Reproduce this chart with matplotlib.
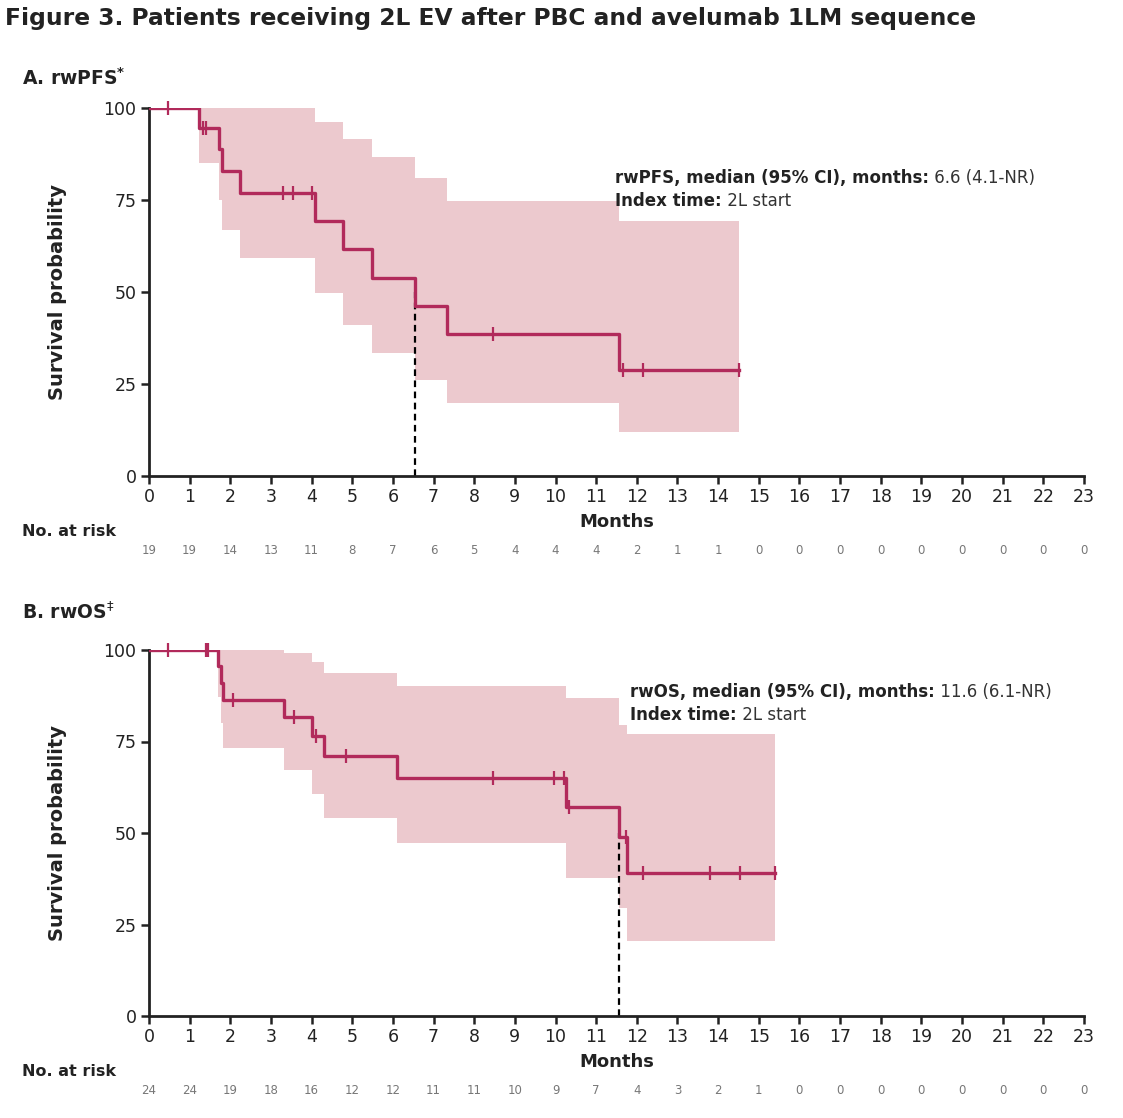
import numpy as np
import matplotlib
matplotlib.use("Agg")
import matplotlib.pyplot as plt

# ---------------- data ----------------
months = list(range(0, 24))

# Panel A: rwPFS
pfs_times = [0, 1.24, 1.73, 1.79, 2.24, 4.08, 4.76, 5.48, 6.55, 7.32, 11.55, 14.52]
pfs_surv = [100, 94.7, 88.8, 82.9, 77.0, 69.3, 61.6, 53.9, 46.2, 38.5, 28.9, 28.9]
pfs_censor = [0.46, 1.33, 1.40, 3.30, 3.53, 4.02, 8.45, 11.67, 12.16, 14.52]
pfs_ci_times = [1.24, 1.73, 1.79, 2.24, 4.08, 4.76, 5.48, 6.55, 7.32, 11.55, 14.52]
pfs_ci_low = [85.0, 75.0, 66.8, 59.2, 49.6, 41.0, 33.3, 26.1, 19.8, 12.0, 12.0]
pfs_ci_high = [100, 100, 100, 100, 96.3, 91.7, 86.8, 81.1, 74.7, 69.3, 69.3]
pfs_median = 6.55
pfs_at_risk = [19, 19, 14, 13, 11, 8, 7, 6, 5, 4, 4, 4, 2, 1, 1, 0, 0, 0, 0, 0, 0, 0, 0, 0]

# Panel B: rwOS
os_times = [0, 1.70, 1.77, 1.81, 3.32, 4.00, 4.31, 6.11, 10.26, 11.57, 11.75, 15.4]
os_surv = [100, 95.5, 90.9, 86.4, 81.6, 76.5, 71.0, 65.1, 57.0, 48.9, 39.1, 39.1]
os_censor = [0.47, 1.40, 1.44, 2.06, 3.57, 4.12, 4.85, 8.47, 9.96, 10.22, 10.34, 11.73,
             12.16, 13.8, 14.54, 15.4]
os_ci_times = [1.70, 1.77, 1.81, 3.32, 4.00, 4.31, 6.11, 10.26, 11.57, 11.75, 15.4]
os_ci_low = [87.2, 80.0, 73.1, 67.2, 60.6, 54.2, 47.2, 37.8, 29.5, 20.5, 20.5]
os_ci_high = [100, 100, 100, 99.3, 96.8, 93.6, 90.2, 86.8, 79.5, 77.0, 77.0]
os_median = 11.57
os_at_risk = [24, 24, 19, 18, 16, 12, 12, 11, 11, 10, 9, 7, 4, 3, 2, 1, 0, 0, 0, 0, 0, 0, 0, 0]

# ---------------- style ----------------
LINE = "#b12a5b"
BAND = "#ecc9ce"
FONT = "DejaVu Sans"
plt.rcParams["font.family"] = [FONT]
plt.rcParams["mathtext.fontset"] = "dejavusans"

fig = plt.figure(figsize=(11.23, 11.18), dpi=100)

fig.text(5 / 1123, 1 - 18 / 1118, "Figure 3. Patients receiving 2L EV after PBC and avelumab 1LM sequence",
         fontsize=16.8, fontweight="bold", color="#222222", va="center", ha="left")


def surv_at(times, surv, t):
    idx = np.searchsorted(times, t, side="right") - 1
    return np.asarray(surv)[idx]


def panel(rect, times, surv, censor, ci_t, ci_lo, ci_hi, median, at_risk,
          label, label_y, risk_label_y, risk_y, ann_xy, ann_name, ann_val):
    ax = fig.add_axes(rect)
    ax.fill_between(ci_t, ci_lo, ci_hi, step="post", color=BAND, linewidth=0, zorder=1)
    ax.step(times, surv, where="post", color=LINE, linewidth=2.4, zorder=3)
    cy = surv_at(times, surv, censor)
    ax.plot(censor, cy, linestyle="none", marker="|", markersize=10, markeredgewidth=1.6,
            color=LINE, zorder=4, clip_on=False)
    ax.plot([median, median], [0, 50], color="black", linestyle=(0, (3, 2)), linewidth=1.6, zorder=2)
    ax.set_xlim(0, 23)
    ax.set_ylim(0, 100)
    ax.set_xticks(months)
    ax.set_yticks([0, 25, 50, 75, 100])
    ax.tick_params(axis="both", direction="out", length=6, width=1.8, labelsize=12.5,
                   colors="#222222", pad=3)
    for s in ["top", "right"]:
        ax.spines[s].set_visible(False)
    for s in ["left", "bottom"]:
        ax.spines[s].set_linewidth(2.0)
        ax.spines[s].set_color("#222222")
    ax.set_xlabel("Months", fontsize=13, fontweight="bold", labelpad=5, color="#222222")
    ax.set_ylabel("Survival probability", fontsize=14, fontweight="bold", labelpad=26, color="#222222")
    fig.text(22 / 1123, 1 - label_y / 1118, label, fontsize=13.5, fontweight="bold",
             va="center", ha="left", color="#222222")
    fig.text(22 / 1123, 1 - risk_label_y / 1118, "No. at risk", fontsize=11.5, fontweight="bold",
             va="center", ha="left", color="#222222")
    for m, n in zip(months, at_risk):
        ax.annotate(str(n), xy=(m, 0), xycoords=("data", "axes fraction"),
                    xytext=(m, 1 - risk_y / 1118), textcoords=("data", "figure fraction"),
                    ha="center", va="center", fontsize=8.5, color="#777777")
    t1 = fig.text(ann_xy[0] / 1123, 1 - ann_xy[1] / 1118, ann_name + ", median (95% CI), months:",
                  fontsize=12, fontweight="bold", va="center", ha="left", color="#222222")
    ax.annotate(" " + ann_val, xy=(1, 0.5), xycoords=t1, va="center", ha="left",
                fontsize=12, color="#333333")
    t2 = fig.text(ann_xy[0] / 1123, 1 - (ann_xy[1] + 23) / 1118, "Index time:",
                  fontsize=12, fontweight="bold", va="center", ha="left", color="#222222")
    ax.annotate(" 2L start", xy=(1, 0.5), xycoords=t2, va="center", ha="left",
                fontsize=12, color="#333333")
    return ax


panel([149 / 1123, 1 - 476 / 1118, 935 / 1123, 368 / 1118],
      pfs_times, pfs_surv, pfs_censor, pfs_ci_times, pfs_ci_low, pfs_ci_high,
      pfs_median, pfs_at_risk, r"A. rwPFS$^{\mathbf{*}}$", 78, 532, 551, (615, 178), "rwPFS", "6.6 (4.1-NR)")

panel([149 / 1123, 1 - 1016 / 1118, 935 / 1123, 366 / 1118],
      os_times, os_surv, os_censor, os_ci_times, os_ci_low, os_ci_high,
      os_median, os_at_risk, r"B. rwOS$^{\ddagger}$", 612, 1072, 1090, (630, 692), "rwOS", "11.6 (6.1-NR)")

fig.savefig("out.png", dpi=100)
